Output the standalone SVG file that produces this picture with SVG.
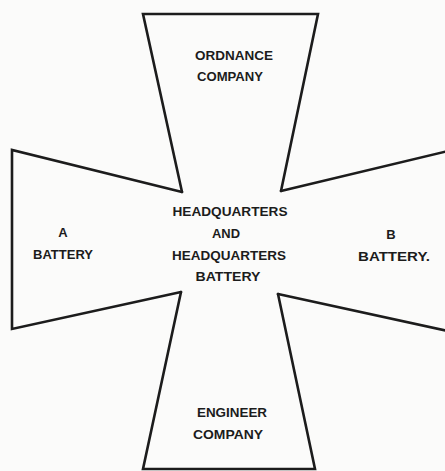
<svg xmlns="http://www.w3.org/2000/svg" width="445" height="471" viewBox="0 0 445 471">
<style>
.arm{fill:none;stroke:#1c1c1c;stroke-width:2.6;stroke-linejoin:miter;stroke-linecap:round}
text{font-family:"Liberation Sans",Arial,sans-serif;font-weight:bold;font-size:13px;fill:#1c1c1c;text-anchor:middle}
</style>
<rect width="445" height="471" fill="#fbfbfa"/>
<g id="ordnance-company">
<path class="arm" d="M182,192 L143,14 L318,14 L281,191"/>
<text x="234" y="60" textLength="78" lengthAdjust="spacingAndGlyphs">ORDNANCE</text>
<text x="230" y="81" textLength="66" lengthAdjust="spacingAndGlyphs">COMPANY</text>
</g>
<g id="b-battery">
<path class="arm" d="M281,191 L448,151 L448,331 L278,294"/>
<text x="391" y="239">B</text>
<text x="394" y="261" textLength="72" lengthAdjust="spacingAndGlyphs">BATTERY.</text>
</g>
<g id="engineer-company">
<path class="arm" d="M278,294 L315,469 L143,469 L181,292"/>
<text x="232" y="417" textLength="70" lengthAdjust="spacingAndGlyphs">ENGINEER</text>
<text x="228" y="439" textLength="70" lengthAdjust="spacingAndGlyphs">COMPANY</text>
</g>
<g id="a-battery">
<path class="arm" d="M181,292 L12,329 L12,150 L182,192"/>
<text x="63" y="237">A</text>
<text x="63" y="259" textLength="60" lengthAdjust="spacingAndGlyphs">BATTERY</text>
</g>
<g id="headquarters">
<text x="230" y="216" textLength="115" lengthAdjust="spacingAndGlyphs">HEADQUARTERS</text>
<text x="226" y="238" textLength="28" lengthAdjust="spacingAndGlyphs">AND</text>
<text x="229" y="260" textLength="114" lengthAdjust="spacingAndGlyphs">HEADQUARTERS</text>
<text x="228" y="281" textLength="65" lengthAdjust="spacingAndGlyphs">BATTERY</text>
</g>
<g id="connectors"/>
</svg>
